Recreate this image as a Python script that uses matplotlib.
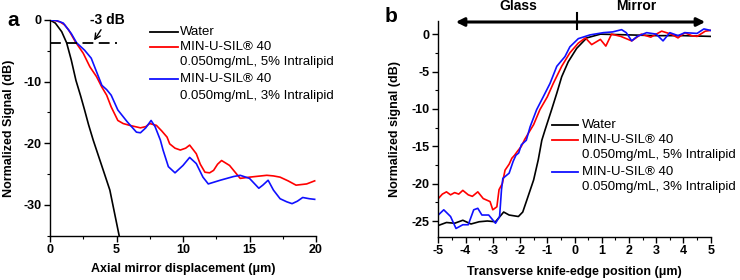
import matplotlib
matplotlib.use("Agg")
import matplotlib.pyplot as plt
from matplotlib.lines import Line2D
from matplotlib.ticker import MultipleLocator

plt.rcParams['font.family'] = ['Liberation Sans', 'DejaVu Sans']
plt.rcParams['axes.unicode_minus'] = False

# Panel a: axial response (dB) vs axial mirror displacement (um)
water_a_x = [0, 0.4, 0.88, 1.25, 1.6, 1.95, 2.3, 2.6, 2.9, 3.25, 3.76, 4.1, 4.5, 4.85, 5.2]
water_a_y = [0, -0.5, -1.9, -3.7, -6.5, -9.8, -12.3, -14.6, -17.0, -19.5, -22.8, -25.0, -27.6, -31.3, -35.0]

red_a_x = [0, 0.4, 0.75, 1.1, 1.4, 1.9, 2.5, 3.0, 3.5, 3.9, 4.26, 4.6, 5.1, 5.5, 6.0, 6.8, 7.2,
           7.5, 8.0, 8.4, 8.8, 9.0, 9.4, 9.8, 10.2, 10.5, 11.0, 11.3, 11.65, 12.0, 12.3, 12.6,
           12.9, 13.5, 14.3, 15.0, 16.3, 16.8, 17.3, 17.9, 18.5, 19.3, 19.9]
red_a_y = [0, -0.1, -0.3, -0.8, -1.6, -3.5, -5.4, -7.6, -9.2, -10.9, -12.2, -14.1, -16.3, -16.8,
           -17.1, -17.5, -17.3, -16.8, -17.1, -18.0, -19.0, -20.1, -20.8, -21.1, -20.8, -20.3,
           -21.7, -23.4, -24.7, -24.8, -24.4, -23.4, -22.8, -23.6, -25.7, -25.5, -25.2, -25.3,
           -25.5, -26.1, -26.8, -26.6, -26.1]

blue_a_x = [0, 0.5, 1.0, 1.6, 2.0, 2.6, 3.1, 3.5, 3.9, 4.26, 4.6, 5.1, 5.8, 6.5, 6.8, 7.2, 7.6,
            7.9, 8.3, 8.5, 8.9, 9.4, 10.0, 10.5, 11.0, 11.5, 11.9, 12.8, 13.8, 14.3, 15.0, 15.7,
            16.0, 16.4, 16.8, 17.3, 17.8, 18.2, 18.6, 19.0, 19.5, 19.9]
blue_a_y = [0, -0.1, -0.5, -2.2, -3.7, -4.9, -6.2, -8.4, -10.6, -11.3, -12.2, -14.6, -16.5, -18.2,
            -18.3, -17.5, -16.3, -17.3, -19.5, -21.1, -23.8, -24.8, -23.6, -22.3, -23.3, -25.5,
            -26.6, -26.0, -25.4, -25.2, -25.7, -27.3, -26.8, -26.0, -27.6, -29.0, -29.5, -29.8,
            -29.4, -28.8, -29.0, -29.1]

# Panel b: knife-edge response (dB) vs transverse position (um)
water_b_x = [-5, -4.7, -4.4, -4.1, -3.8, -3.5, -3.2, -2.9, -2.6, -2.4, -2.06, -1.9, -1.75, -1.5,
             -1.33, -1.2, -1.08, -0.84, -0.65, -0.47, -0.23, 0.08, 0.45, 0.95, 2.0, 3.0, 4.0, 5.0]
water_b_y = [-25.6, -25.2, -25.3, -24.9, -25.4, -25.1, -25.0, -25.1, -23.8, -24.2, -24.4, -23.8,
             -22.2, -19.5, -16.8, -14.2, -12.8, -10.1, -7.9, -5.7, -3.7, -1.9, -0.5, 0, -0.1,
             -0.2, -0.2, -0.3]

red_b_x = [-5, -4.85, -4.7, -4.55, -4.4, -4.25, -4.1, -3.9, -3.75, -3.55, -3.35, -3.1, -3.0,
           -2.85, -2.77, -2.65, -2.55, -2.4, -2.3, -2.2, -2.1, -1.95, -1.83, -1.65, -1.5, -1.27,
           -1.0, -0.78, -0.47, -0.17, 0.14, 0.4, 0.63, 0.95, 1.15, 1.36, 1.7, 2.1, 2.45, 2.8,
           3.2, 3.55, 3.8, 4.05, 4.3, 4.5, 4.8, 5.0]
red_b_y = [-22.0, -21.4, -21.1, -21.5, -21.2, -21.4, -20.9, -21.5, -21.7, -21.1, -22.0, -22.4,
           -23.5, -23.1, -20.8, -20.0, -18.2, -17.4, -16.6, -16.2, -15.7, -15.0, -14.1, -13.0,
           -12.1, -10.1, -8.4, -6.6, -4.3, -2.5, -1.2, -0.5, -1.4, -0.7, -1.6, 0, -0.3, -0.9,
           0, -0.4, 0.4, 0, -0.5, 0.2, -0.2, -0.3, 0.4, 0.5]

blue_b_x = [-5, -4.8, -4.55, -4.35, -4.1, -3.9, -3.7, -3.55, -3.4, -3.15, -2.9, -2.75, -2.68,
            -2.63, -2.4, -2.25, -2.15, -2.05, -1.95, -1.77, -1.63, -1.39, -1.15, -0.9, -0.65,
            -0.35, -0.17, 0.14, 0.57, 1.06, 1.4, 1.73, 1.9, 2.1, 2.3, 2.65, 3.0, 3.25, 3.5,
            3.8, 4.05, 4.5, 4.75, 5.0]
blue_b_y = [-24.2, -23.5, -24.4, -26.0, -25.5, -25.5, -23.5, -23.3, -24.2, -24.2, -25.3, -24.4,
            -20.8, -19.3, -18.6, -17.0, -16.2, -15.9, -14.8, -14.2, -12.4, -10.1, -8.4, -6.6,
            -4.3, -3.0, -1.7, -0.6, -0.1, 0.2, 0.3, 0.6, 0.2, -0.9, -0.3, 0.2, 0.0, -0.9, 0.2,
            -0.2, 0.2, 0.1, 0.7, 0.5]

legend_labels = ["Water", "MIN-U-SIL® 40", "0.050mg/mL, 5% Intralipid",
                 "MIN-U-SIL® 40", "0.050mg/mL, 3% Intralipid"]
legend_colors = ["black", "red", None, "#1010ff", None]

RED = "red"
BLUE = "#1010ff"

fig = plt.figure(figsize=(7.4, 2.8), dpi=100)
W, H = 740.0, 280.0


def px_axes(left, top, right, bottom):
    return fig.add_axes([left / W, 1 - bottom / H, (right - left) / W, (bottom - top) / H])


def style_axes(ax):
    for s in ["top", "right"]:
        ax.spines[s].set_visible(False)
    for s in ["left", "bottom"]:
        ax.spines[s].set_linewidth(1.0)
    ax.tick_params(which="major", direction="out", length=4, width=1, labelsize=9, pad=2)
    ax.tick_params(which="minor", direction="out", length=2.5, width=0.8)
    for lab in ax.get_xticklabels() + ax.get_yticklabels():
        lab.set_fontweight("bold")


def draw_legend(x_line0, x_line1, x_text, rows_y):
    for lab, col, y in zip(legend_labels, legend_colors, rows_y):
        if col is not None:
            fig.add_artist(Line2D([x_line0 / W, x_line1 / W], [1 - y / H, 1 - y / H],
                                  color=col, lw=1.3, transform=fig.transFigure))
        fig.text(x_text / W, 1 - y / H, lab, fontsize=9.5, va="center", ha="left")


# ---- panel a ----
ax1 = px_axes(50, 20, 316, 235.7)
ax1.plot(water_a_x, water_a_y, color="black", lw=1.2)
ax1.plot(red_a_x, red_a_y, color=RED, lw=1.2)
ax1.plot(blue_a_x, blue_a_y, color=BLUE, lw=1.2)
ax1.plot([0, 5], [-3.7, -3.7], color="black", lw=1.3, ls=(0, (6, 3)))
ax1.annotate("", xy=(3.2, -3.7), xytext=(3.95, -1.2),
             arrowprops=dict(arrowstyle="->", color="black", lw=1.0), annotation_clip=False)
ax1.text(4.3, 0, "-3 dB", fontsize=10, fontweight="bold", ha="center", va="center", clip_on=False)
ax1.set_xlim(0, 20)
ax1.set_ylim(-35, 0)
ax1.xaxis.set_major_locator(MultipleLocator(5))
ax1.xaxis.set_minor_locator(MultipleLocator(2.5))
ax1.yaxis.set_major_locator(MultipleLocator(10))
ax1.yaxis.set_minor_locator(MultipleLocator(5))
ax1.set_xlabel("Axial mirror displacement (μm)", fontsize=9, fontweight="bold", labelpad=5)
ax1.set_ylabel("Normalized Signal (dB)", fontsize=9, fontweight="bold", labelpad=6)
style_axes(ax1)
fig.text(7 / W, 1 - 20 / H, "a", fontsize=15, fontweight="bold", va="center")
draw_legend(150, 178, 180, [32, 47, 62, 79, 96])

# ---- panel b ----
ax2 = px_axes(438.3, 20.7, 710.7, 236.7)
ax2.plot(water_b_x, water_b_y, color="black", lw=1.2)
ax2.plot(red_b_x, red_b_y, color=RED, lw=1.2)
ax2.plot(blue_b_x, blue_b_y, color=BLUE, lw=1.2)
ax2.set_xlim(-5, 5)
ax2.set_ylim(-27.1, 1.8)
ax2.xaxis.set_major_locator(MultipleLocator(1))
ax2.xaxis.set_minor_locator(MultipleLocator(0.5))
ax2.yaxis.set_major_locator(MultipleLocator(5))
ax2.yaxis.set_minor_locator(MultipleLocator(2.5))
ax2.set_xlabel("Transverse knife-edge position (μm)", fontsize=9, fontweight="bold", labelpad=6.5)
ax2.set_ylabel("Normalized signal (dB)", fontsize=9, fontweight="bold", labelpad=8)
style_axes(ax2)
fig.text(385 / W, 1 - 17 / H, "b", fontsize=15, fontweight="bold", va="center")

# Glass / Mirror double arrow above panel b
ay = 1 - 22 / H
fig.add_artist(matplotlib.patches.FancyArrowPatch((453 / W, ay), (708 / W, ay),
                                                  arrowstyle="<|-|>", mutation_scale=12,
                                                  color="black", lw=2.2,
                                                  transform=fig.transFigure))
fig.add_artist(Line2D([577 / W, 577 / W], [1 - 13 / H, 1 - 29 / H], color="black", lw=1.5,
                      transform=fig.transFigure))
fig.text(518 / W, 1 - 6 / H, "Glass", fontsize=10, fontweight="bold", ha="center", va="center")
fig.text(636 / W, 1 - 6 / H, "Mirror", fontsize=10, fontweight="bold", ha="center", va="center")
draw_legend(552, 578, 582, [125, 140, 155, 172, 187])

fig.savefig("out.png", dpi=100)
